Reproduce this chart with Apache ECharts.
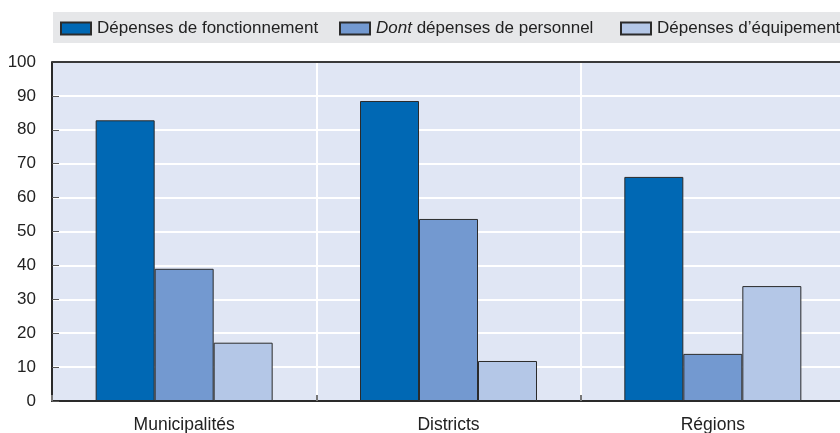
<!DOCTYPE html>
<html>
<head>
<meta charset="utf-8">
<script src="https://cdn.jsdelivr.net/npm/echarts@6/dist/echarts.min.js"></script>
<style>
  html, body { margin: 0; padding: 0; background: #ffffff; }
  #chart { width: 840px; height: 433px; }
</style>
</head>
<body>
<div id="chart"></div>
<script>
// Categories and series values (percent)
const categories = ['Municipalités', 'Districts', 'Régions'];
const seriesNames = ['Dépenses de fonctionnement', 'Dont dépenses de personnel', 'Dépenses d\u2019équipement'];
const fonctionnement = [82.8, 88.5, 66.1];
const personnel = [39.0, 53.7, 13.9];
const equipement = [17.2, 11.8, 33.9];
const yTicks = [0, 10, 20, 30, 40, 50, 60, 70, 80, 90, 100];

const colors = ['#0068b4', '#7399d0', '#b4c7e7'];
const FONT = '"Liberation Sans", Arial, sans-serif';

const chart = echarts.init(document.getElementById('chart'), null, { renderer: 'canvas' });

function makeSeries(name, data, color) {
  return {
    name: name,
    type: 'bar',
    data: data,
    barWidth: 59,
    barGap: '0%',
    itemStyle: { color: color, borderColor: '#2b2b2b', borderWidth: 1 }
  };
}

function legendAt(left, name) {
  return {
    data: [name],
    left: left,
    top: 20,
    itemWidth: 30,
    itemHeight: 12,
    itemGap: 0,
    padding: 0,
    selectedMode: false,
    icon: 'rect',
    formatter: function (n) {
      if (n.indexOf('Dont ') === 0) {
        return '{it|Dont}{nm| ' + n.slice(5) + '}';
      }
      return '{nm|' + n + '}';
    },
    textStyle: {
      fontFamily: FONT,
      fontSize: 17,
      color: '#222',
      padding: [0, 0, 0, 1],
      rich: {
        it: { fontFamily: FONT, fontSize: 17, fontStyle: 'italic', color: '#222' },
        nm: { fontFamily: FONT, fontSize: 17, color: '#222' }
      }
    }
  };
}

chart.setOption({
  animation: false,
  graphic: [{
    type: 'rect',
    shape: { x: 53, y: 12, width: 800, height: 31 },
    style: { fill: '#e6e7e9' },
    z: -1
  }],
  legend: [
    legendAt(60, seriesNames[0]),
    legendAt(339, seriesNames[1]),
    legendAt(620, seriesNames[2])
  ],
  grid: {
    left: 52,
    width: 793,
    top: 62,
    bottom: 32,
    outerBoundsMode: 'none',
    containLabel: false,
    show: true,
    backgroundColor: '#e0e6f4',
    borderWidth: 0
  },
  xAxis: {
    type: 'category',
    data: categories,
    boundaryGap: true,
    axisLine: { show: true, lineStyle: { color: '#2a2a2a', width: 2 } },
    axisTick: { show: true, inside: true, length: 6, lineStyle: { color: '#777', width: 2 } },
    axisLabel: { fontFamily: FONT, fontSize: 17.5, color: '#222', margin: 15 },
    splitLine: { show: true, lineStyle: { color: '#ffffff', width: 2 } }
  },
  yAxis: {
    type: 'value',
    min: 0,
    max: 100,
    interval: 10,
    axisLine: { show: true, lineStyle: { color: '#2a2a2a', width: 2 } },
    axisTick: { show: true, inside: true, length: 7, lineStyle: { color: '#555', width: 1 } },
    axisLabel: {
      fontFamily: FONT, fontSize: 17, color: '#222', margin: 16,
      formatter: function (v) { return yTicks.indexOf(v) >= 0 ? String(v) : ''; }
    },
    splitLine: { show: true, lineStyle: { color: '#ffffff', width: 2 } }
  },
  series: [
    makeSeries(seriesNames[0], fonctionnement, colors[0]),
    makeSeries(seriesNames[1], personnel, colors[1]),
    makeSeries(seriesNames[2], equipement, colors[2]),
    {
      // top border of the plot area
      type: 'line',
      data: [],
      markLine: {
        silent: true,
        symbol: 'none',
        label: { show: false },
        lineStyle: { color: '#3a3a3a', width: 2, type: 'solid' },
        data: [{ yAxis: 100 }]
      }
    }
  ]
});
</script>
</body>
</html>
